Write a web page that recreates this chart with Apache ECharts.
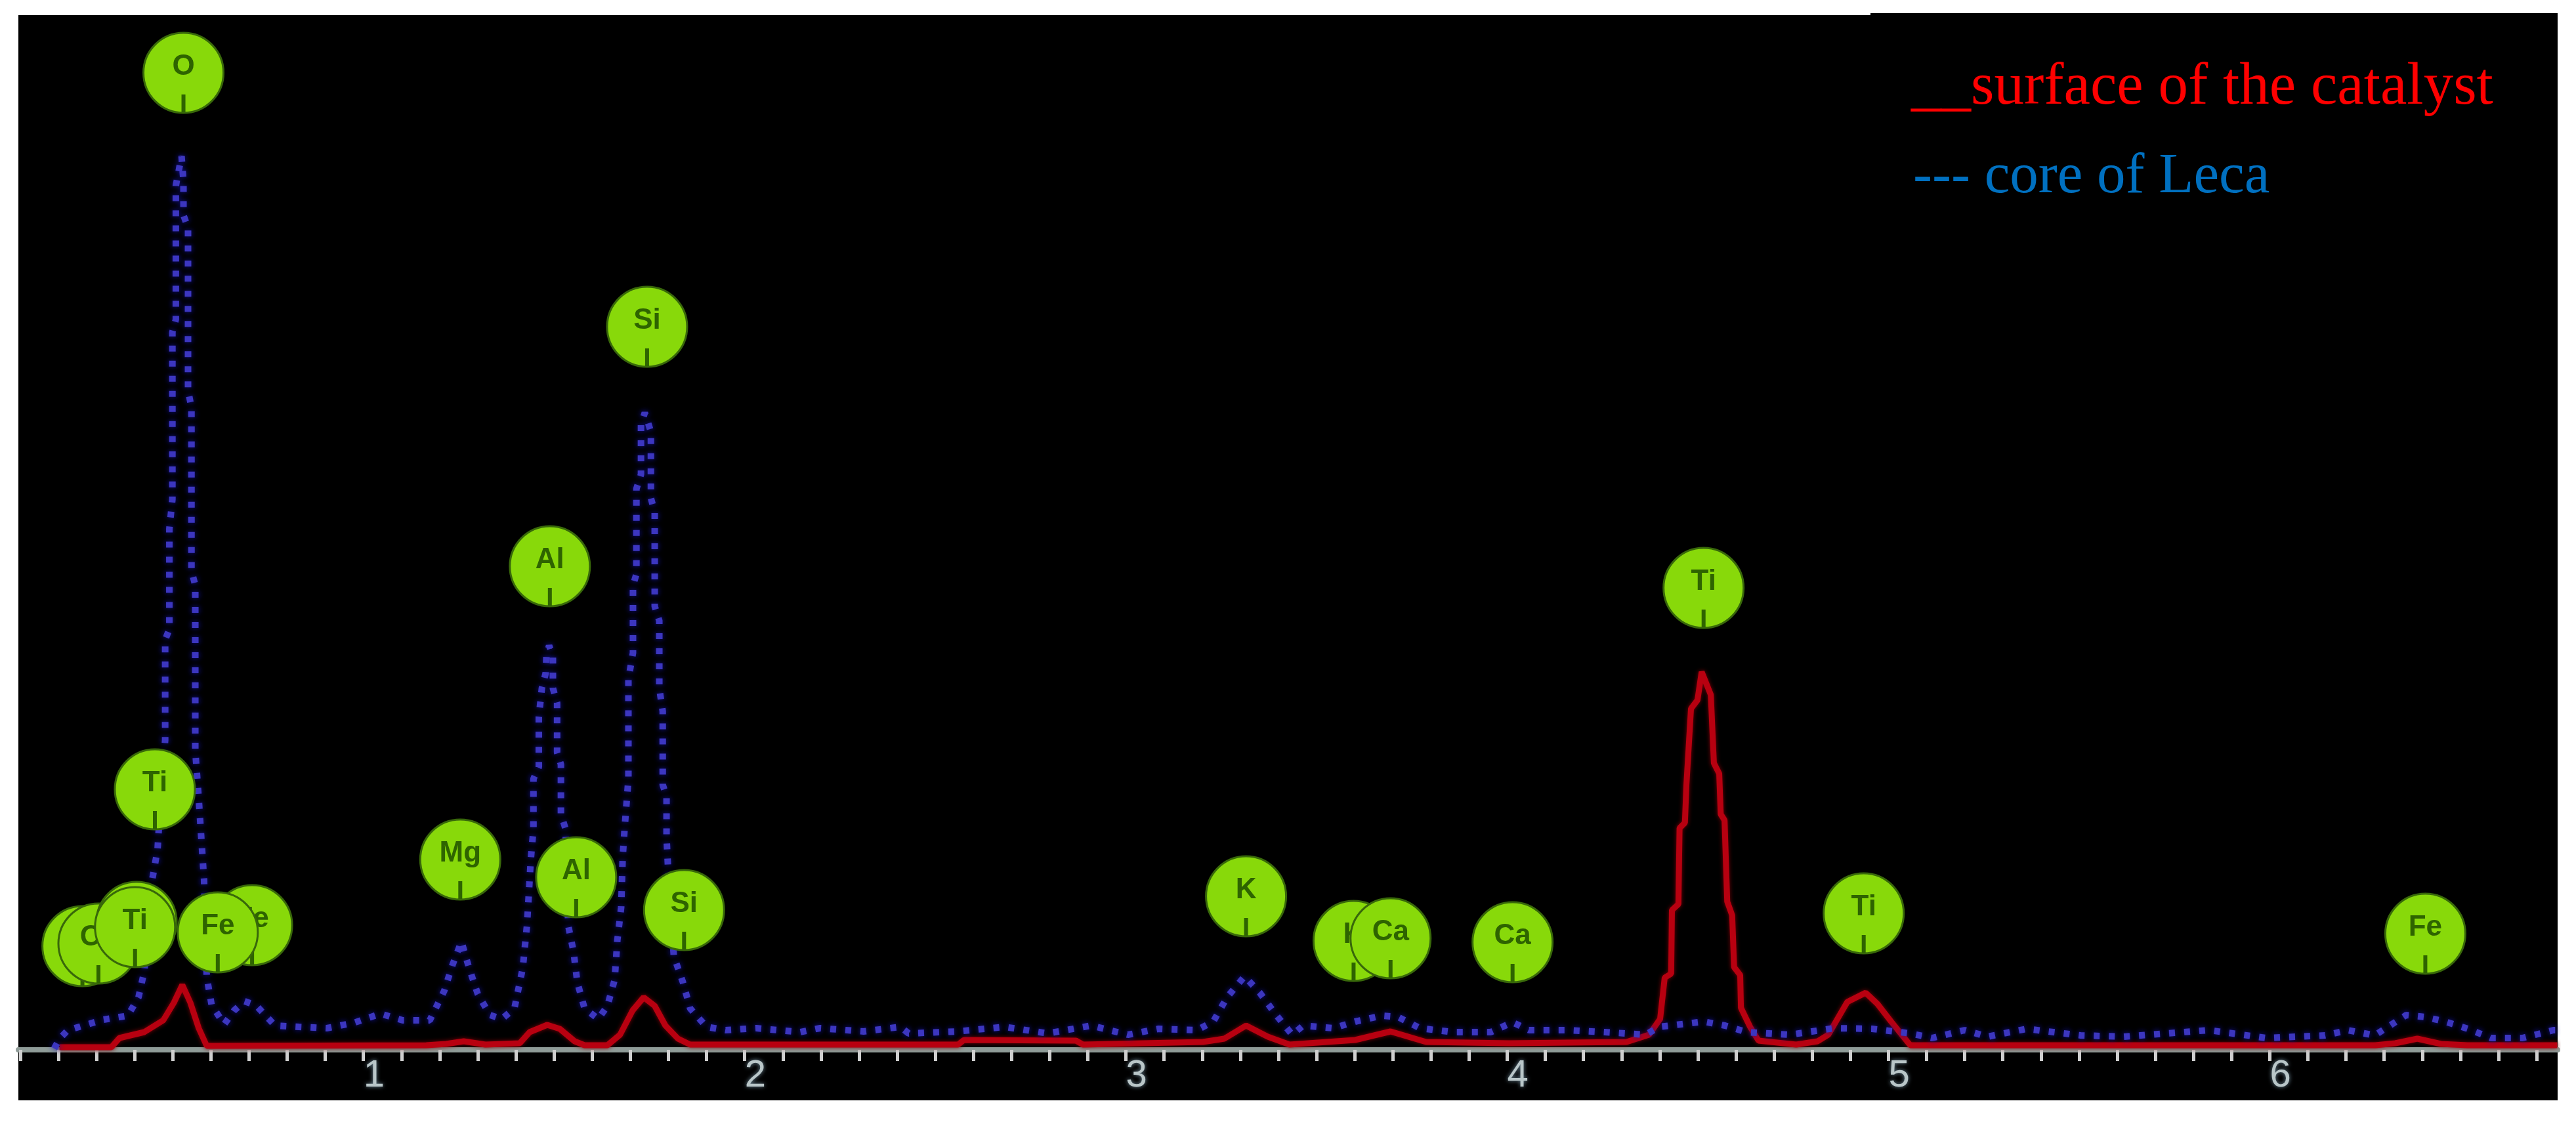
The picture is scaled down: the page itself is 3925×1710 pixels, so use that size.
<!DOCTYPE html>
<html>
<head>
<meta charset="utf-8">
<style>html,body{margin:0;padding:0;background:#fff}#c{width:3925px;height:1710px}</style>
<script src="https://cdn.jsdelivr.net/npm/echarts@6/dist/echarts.min.js"></script>
</head>
<body>
<div id="c"></div>
<script>
var blueEnergy = [.189,.203,.225,.26,.318,.382,.41,.425,.439,.446,.46,.47,.48,.48,.491,.491,.499,.499,.508,.508,.523,.528,.528,.54,.54,.549,.549,.559,.559,.568,.582,.589,.602,.635,.661,.688,.718,.768,.831,.904,.974,1.045,1.103,1.174,1.212,1.234,1.257,1.277,1.3,1.332,1.363,1.396,1.418,1.429,1.439,1.446,1.446,1.46,1.46,1.468,1.478,1.48,1.487,1.497,1.497,1.508,1.508,1.518,1.518,1.53,1.537,1.551,1.561,1.58,1.616,1.64,1.659,1.666,1.676,1.68,1.685,1.695,1.695,1.707,1.707,1.716,1.716,1.728,1.728,1.738,1.754,1.754,1.764,1.764,1.776,1.776,1.785,1.785,1.795,1.795,1.799,1.814,1.838,1.857,1.9,1.95,2.031,2.145,2.198,2.312,2.408,2.43,2.558,2.682,2.795,2.909,3.005,3.085,3.186,3.229,3.265,3.311,3.351,3.394,3.436,3.465,3.544,3.601,3.671,3.714,3.771,3.857,3.957,4.014,4.057,4.157,4.256,4.363,4.399,4.515,4.571,4.628,4.742,4.857,4.957,5.057,5.114,5.2,5.26,5.362,5.504,5.616,5.84,5.991,6.145,6.205,6.275,6.358,6.408,6.46,6.52,6.58,6.663,6.744,6.754];
var blueCounts = [2,17,30,36,46,52,80,119,200,259,305,400,472,625,641,794,839,1094,1113,1317,1362,1323,1272,1253,1005,979,730,708,456,383,259,111,68,39,60,74,68,37,35,33,41,55,45,45,90,130,165,125,85,53,47,63,125,190,290,337,413,431,507,551,574,600,616,600,551,529,453,435,359,337,190,150,103,63,47,67,107,167,217,293,337,413,565,605,708,725,855,877,953,971,942,841,819,676,654,551,516,404,386,324,277,143,103,63,35,30,33,27,33,28,35,25,28,35,25,37,23,32,30,43,80,112,87,53,23,37,33,43,52,50,33,27,27,42,30,30,27,23,35,43,37,27,23,33,32,25,18,30,20,32,22,20,30,18,22,30,22,53,50,43,32,18,18,30,30];
var redEnergy = [.203,.339,.36,.425,.475,.503,.525,.546,.568,.589,1.165,1.217,1.263,1.32,1.41,1.436,1.482,1.515,1.554,1.58,1.64,1.673,1.706,1.735,1.764,1.792,1.825,1.857,2.56,2.575,2.869,2.887,3.202,3.258,3.315,3.372,3.429,3.601,3.694,3.787,4.005,4.313,4.372,4.401,4.413,4.43,4.432,4.449,4.452,4.466,4.47,4.482,4.499,4.51,4.534,4.542,4.556,4.56,4.57,4.577,4.59,4.595,4.611,4.613,4.637,4.659,4.758,4.814,4.842,4.892,4.94,4.971,5.007,5.057,6.277,6.329,6.387,6.449,6.518,6.754];
var redCounts = [4,4,18,27,45,72,99,72,33,6,7,9,13,8,10,27,38,32,13,7,7,23,60,80,67,37,17,8,8,15,14,8,12,17,37,20,8,15,28,12,10,12,23,47,110,116,213,222,338,346,404,520,533,576,541,437,421,359,350,226,205,126,114,64,35,14,8,13,23,73,87,70,43,7,7,10,17,9,7,7];
var markerElements = ["C","Ca","Ti","Ti","Fe","Fe","Ti","O","Mg","Al","Si","Al","Si","K","K","Ca","Ca","Ti","Ti","Fe"];
var markerEnergy = [.263,.305,.405,.401,.708,.618,.453,.528,1.254,1.489,1.744,1.558,1.841,3.315,3.597,3.694,4.014,4.515,4.935,6.408];
var markerCounts = [158,162,195,187,190,179,397,1489,290,737,1102,263,213,234,166,170,164,704,208,177];
var tickValues = [.1,.2,.3,.4,.5,.6,.7,.8,.9,1,1.1,1.2,1.3,1.4,1.5,1.6,1.7,1.8,1.9,2,2.1,2.2,2.3,2.4,2.5,2.6,2.7,2.8,2.9,3,3.1,3.2,3.3,3.4,3.5,3.6,3.7,3.8,3.9,4,4.1,4.2,4.3,4.4,4.5,4.6,4.7,4.8,4.9,5,5.1,5.2,5.3,5.4,5.5,5.6,5.7,5.8,5.9,6,6.1,6.2,6.3,6.4,6.5,6.6,6.7];
var tickLabels = [1,2,3,4,5,6];
var legendRed = "__surface of the catalyst";
var legendBlue = "--- core of Leca";

function zip(a,b){return a.map(function(v,i){return [v,b[i]];});}
var chart = echarts.init(document.getElementById('c'), null, {renderer:'canvas', width:3925, height:1710});
chart.setOption({
  animation:false,
  backgroundColor:'#fff',
  grid:{left:28,right:28,top:23,bottom:33,outerBoundsMode:'none',show:true,backgroundColor:'#000',borderWidth:0},
  xAxis:{type:'value',min:.095,max:6.755,splitLine:{show:false},
    axisLine:{onZero:true,lineStyle:{color:'#8f9c98',width:8}},
    axisTick:{length:17,customValues:tickValues,lineStyle:{color:'#cfcfcf',width:5}},
    axisLabel:{customValues:tickLabels,align:'left',verticalAlign:'top',margin:-66,color:'#b9c6c8',
      fontFamily:'"Liberation Sans Narrow","Liberation Sans"',fontSize:58,
      textShadowColor:'#6f8a9a',textShadowBlur:6}},
  yAxis:{type:'value',min:-77,max:1577,show:false,splitLine:{show:false}},
  graphic:{elements:[
    {type:'rect',z:1,shape:{x:2850,y:20,width:1047,height:300},style:{fill:'#000'}},
    {type:'text',z:50,style:{x:2912,y:180,text:legendRed,fill:'#ff0000',font:'91px "Liberation Serif"',verticalAlign:'bottom'}},
    {type:'text',z:50,style:{x:2915,y:314,text:legendBlue,fill:'#0070c0',font:'87px "Liberation Serif"',verticalAlign:'bottom'}}
  ]},
  series:[
    {type:'line',name:'surface of the catalyst',data:zip(redEnergy,redCounts),showSymbol:false,z:3,
      lineStyle:{color:'#b80010',width:9,shadowColor:'#7a0008',shadowBlur:6}},
    {type:'line',name:'core of Leca',data:zip(blueEnergy,blueCounts),showSymbol:false,z:4,
      lineStyle:{color:'#3c36c0',width:10,type:[9,14],shadowColor:'#1212a8',shadowBlur:8}},
    {type:'custom',name:'elements',z:5,clip:false,encode:{x:0,y:1},data:zip(markerEnergy,markerCounts),
      renderItem:function(params,api){
        var p=api.coord([api.value(0),api.value(1)]);
        var cx=p[0],cy=p[1];
        return {type:'group',children:[
          {type:'circle',shape:{cx:cx,cy:cy,r:61},style:{fill:'#88d90a',stroke:'#38680a',lineWidth:3}},
          {type:'rect',shape:{x:cx-3,y:cy+33,width:6,height:27},style:{fill:'#2e6400'}},
          {type:'text',style:{x:cx,y:cy-9,text:markerElements[params.dataIndex],align:'center',verticalAlign:'middle',
            font:'bold 44px "Liberation Sans"',fill:'#2e6400'}}
        ]};
      }}
  ]
});
</script>
</body>
</html>
